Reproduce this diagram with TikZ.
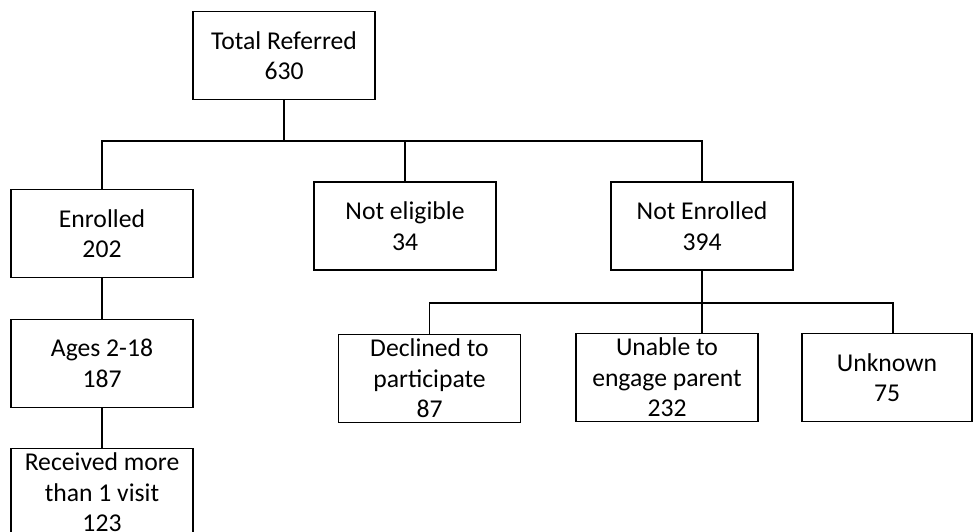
\documentclass[tikz,border=0pt]{standalone}
\usepackage{fontspec}
\setmainfont{Carlito}
\usepackage{tikz}
\usetikzlibrary{positioning}

\begin{document}
\begin{tikzpicture}[x=0.02cm, y=-0.02cm, line width=1.1pt,
  box/.style={draw, fill=white, align=center, inner sep=0pt,
    minimum width=3.64cm, minimum height=1.76cm,
    font=\fontsize{14.6}{17.4}\selectfont}]
  % frame of the picture
  \useasboundingbox (0,0) rectangle (973,531);
  \clip (0,0) rectangle (973,531);
  % top and first level
  \node[box] (total) at (284, 55.5) {Total Referred\\630};
  \node[box] (enrolled) at (102, 233.5) {Enrolled\\202};
  \node[box] (noteligible) at (405, 226) {Not eligible\\34};
  \node[box] (notenrolled) at (702, 226) {Not Enrolled\\394};
  % enrolled branch
  \node[box] (ages) at (102, 363.5) {Ages 2-18\\187};
  \node[box] (received) at (102, 492.5) {Received more\\than 1 visit\\123};
  % not enrolled branch
  \node[box] (declined) at (429.5, 378.5) {Declined to\\participate\\87};
  \node[box] (unable) at (667, 377.5) {Unable to\\engage parent\\232};
  \node[box, minimum width=3.4cm] (unknown) at (887, 377.5) {Unknown\\75};
  % bus lines
  \coordinate (bus1) at (0, 141);
  \coordinate (bus2) at (0, 303);
  \coordinate (ukin) at (893, 333);
  \draw (total.south) -- (total.south |- bus1);
  \draw (enrolled.north) |- (notenrolled.north |- bus1) -- (notenrolled.north);
  \draw (noteligible.north) -- (noteligible.north |- bus1);
  \draw (enrolled.south) -- (ages.north);
  \draw (ages.south) -- (received.north);
  \draw (notenrolled.south) -- (notenrolled.south |- unable.north);
  \draw (declined.north) |- (ukin |- bus2) -- (ukin);
\end{tikzpicture}
\end{document}
